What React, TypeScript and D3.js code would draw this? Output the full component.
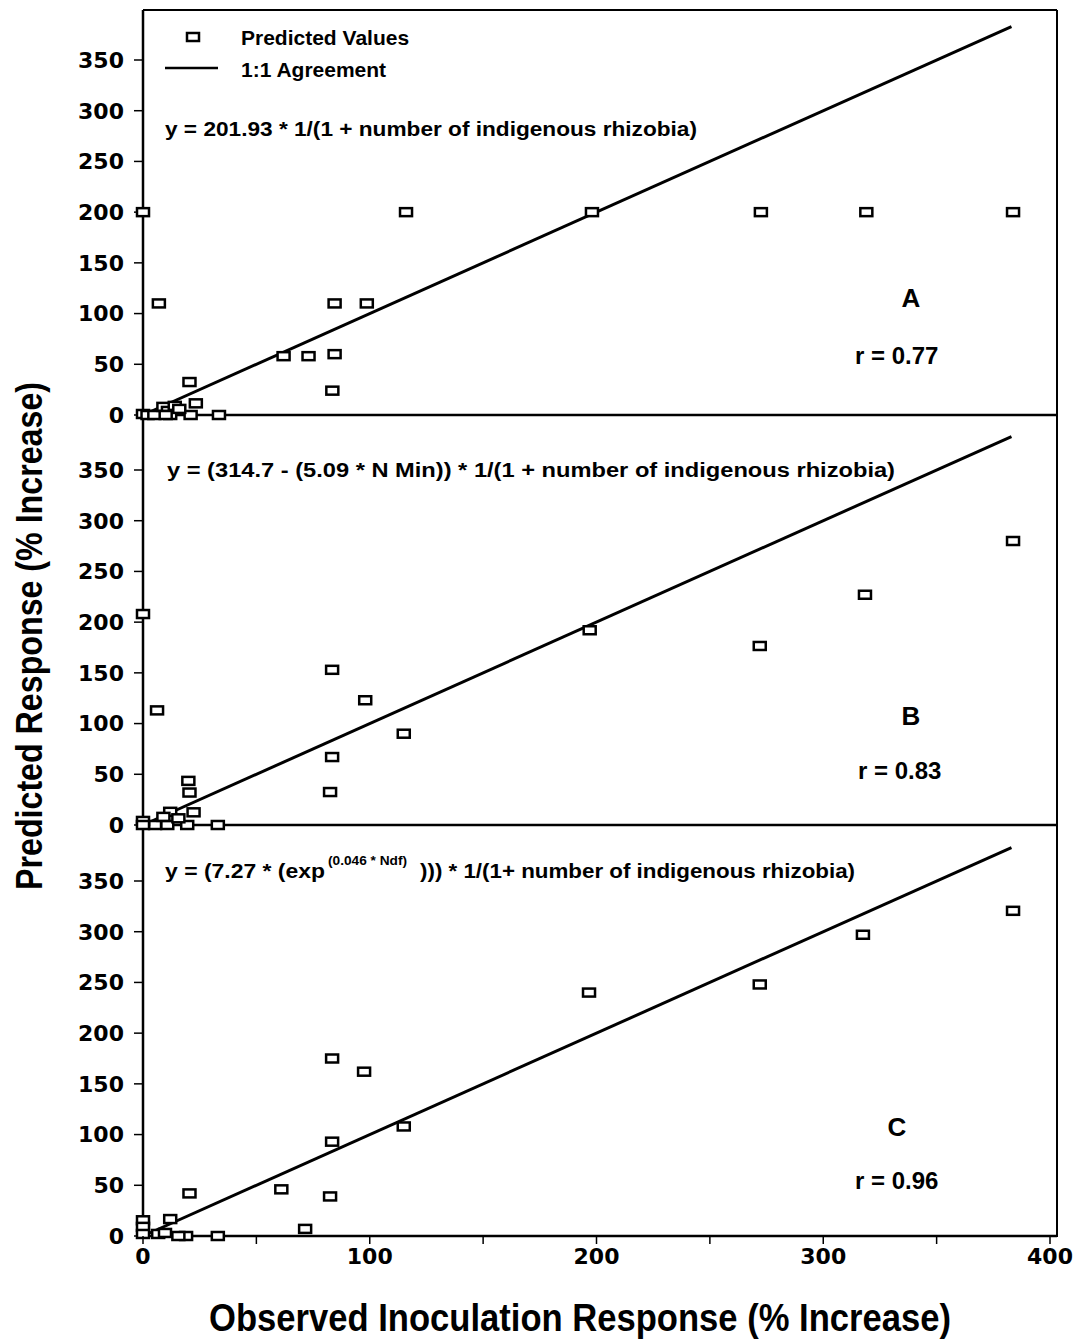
import React from "react";
import * as d3 from "d3";

const obsA = [0, 7, 116, 198, 272.5, 319, 383.7, 84.5, 98.7, 62, 73, 84.5, 83.5, 20.5, 23.3, 33.5, 21, 0, 2, 5, 9, 11, 12, 14, 16, 10];
const predA = [200, 110, 200, 200, 200, 200, 200, 110, 110, 58, 58, 60, 24, 32.5, 11.5, 0, 0, 1, 0, 0, 8, 4, 0, 9, 6, 0];

const obsB = [0, 6.2, 83.4, 98, 115, 83.4, 82.5, 197, 272, 318.4, 383.7, 20, 20.5, 22.3, 33, 19.5, 10.7, 5.3, 0, 0, 12, 15.6, 9];
const predB = [208, 113, 153, 123, 90, 67, 32.5, 192, 176.5, 227, 280, 43.5, 32, 12.5, 0, 0, 0, 0, 4, 0, 13, 6.6, 8];

const obsC = [0, 0, 0, 12, 20.5, 61, 82.5, 71.5, 83.4, 83.4, 97.5, 115, 196.7, 272, 317.5, 383.7, 33, 19, 15.6, 6.7, 9.7];
const predC = [15.5, 9, 2, 16.7, 42, 46, 39, 7, 93, 175, 162, 108, 240, 248, 297, 320.6, 0, 0, 0, 2, 3];

const lineEnd = 383;
const yTicks = [0, 50, 100, 150, 200, 250, 300, 350];
const xTicks = [0, 100, 200, 300, 400];
const xMinorTicks = [0, 50, 100, 150, 200, 250, 300, 350, 400];

const panelLetters = ["A", "B", "C"];
const rValues = ["r = 0.77", "r = 0.83", "r = 0.96"];

const BOLD = "'Liberation Sans', Arial, sans-serif";
const TICKF = "'DejaVu Sans', Verdana, sans-serif";

export default function App() {
  const left = 143;
  const right = 1057;
  const top = 10;
  const x = d3.scaleLinear().domain([0, 400]).range([143, 1050]);
  const zeros = [415, 825, 1236];
  const ys = zeros.map((z) => d3.scaleLinear().domain([0, 350]).range([z, z - 355]));
  const data = [
    { obs: obsA, pred: predA },
    { obs: obsB, pred: predB },
    { obs: obsC, pred: predC },
  ];
  const letterPos = [
    { lx: 911, ly: 298, rx: 855, ry: 355 },
    { lx: 911, ly: 716, rx: 858, ry: 770 },
    { lx: 897, ly: 1127, rx: 855, ry: 1180 },
  ];
  const line = d3.line<[number, number]>();

  return (
    <div style={{ position: "absolute", left: 0, top: 0 }}>
      <svg width={1080} height={1341} style={{ display: "block", background: "#fff" }}>
        {/* frame */}
        <line x1={left} x2={left} y1={top} y2={1237} stroke="#000" strokeWidth={2.5} />
        <line x1={right} x2={right} y1={top} y2={1237} stroke="#000" strokeWidth={2} />
        <line x1={left} x2={right} y1={top} y2={top} stroke="#000" strokeWidth={2} />
        {ys.map((y, i) => (
          <g key={i}>
            <line x1={left - 1} x2={right} y1={y(0)} y2={y(0)} stroke="#000" strokeWidth={2.5} />
            {yTicks.map((t) => (
              <g key={t}>
                <line x1={left - 9} x2={left} y1={y(t)} y2={y(t)} stroke="#000" strokeWidth={1.5} />
                <text
                  x={124}
                  y={y(t)}
                  dy="0.36em"
                  textAnchor="end"
                  fontFamily={TICKF}
                  fontWeight="bold"
                  fontSize={22}
                >
                  {t}
                </text>
              </g>
            ))}
            <path
              d={line([
                [x(0), y(0)],
                [x(lineEnd), y(lineEnd)],
              ]) || ""}
              stroke="#000"
              strokeWidth={3}
              fill="none"
            />
            {data[i].obs.map((o, j) => (
              <rect
                key={j}
                x={x(o) - 6}
                y={y(data[i].pred[j]) - 4}
                width={12}
                height={8}
                fill="#fff"
                stroke="#000"
                strokeWidth={2.5}
              />
            ))}
            <text
              x={letterPos[i].lx}
              y={letterPos[i].ly}
              dy="0.36em"
              textAnchor="middle"
              fontFamily={BOLD}
              fontWeight="bold"
              fontSize={26}
            >
              {panelLetters[i]}
            </text>
            <text
              x={letterPos[i].rx}
              y={letterPos[i].ry}
              dy="0.36em"
              fontFamily={BOLD}
              fontWeight="bold"
              fontSize={24}
            >
              {rValues[i]}
            </text>
          </g>
        ))}
        {/* x ticks */}
        {xMinorTicks.map((t) => (
          <line key={t} x1={x(t)} x2={x(t)} y1={1236} y2={1244} stroke="#000" strokeWidth={1.5} />
        ))}
        {xTicks.map((t) => (
          <text
            key={t}
            x={x(t)}
            y={1256}
            dy="0.36em"
            textAnchor="middle"
            fontFamily={TICKF}
            fontWeight="bold"
            fontSize={22}
          >
            {t}
          </text>
        ))}
        {/* legend */}
        <rect x={187} y={33} width={12} height={8} fill="#fff" stroke="#000" strokeWidth={2.5} />
        <line x1={165} x2={218} y1={68} y2={68} stroke="#000" strokeWidth={2.5} />
        <text x={241} y={37} dy="0.36em" fontFamily={BOLD} fontWeight="bold" fontSize={21}>
          Predicted Values
        </text>
        <text x={241} y={69} dy="0.36em" fontFamily={BOLD} fontWeight="bold" fontSize={21}>
          1:1 Agreement
        </text>
        {/* equations */}
        <text
          x={165}
          y={129}
          dy="0.36em"
          fontFamily={BOLD}
          fontWeight="bold"
          fontSize={20}
          textLength={532}
          lengthAdjust="spacingAndGlyphs"
        >
          y = 201.93 * 1/(1 + number of indigenous rhizobia)
        </text>
        <text
          x={167}
          y={470}
          dy="0.36em"
          fontFamily={BOLD}
          fontWeight="bold"
          fontSize={20}
          textLength={728}
          lengthAdjust="spacingAndGlyphs"
        >
          y = (314.7 - (5.09 * N Min)) * 1/(1 + number of indigenous rhizobia)
        </text>
        <text
          x={165}
          y={871}
          dy="0.36em"
          fontFamily={BOLD}
          fontWeight="bold"
          fontSize={20}
          textLength={160}
          lengthAdjust="spacingAndGlyphs"
        >
          y = (7.27 * (exp
        </text>
        <text
          x={328}
          y={861}
          dy="0.36em"
          fontFamily={BOLD}
          fontWeight="bold"
          fontSize={12}
          textLength={79}
          lengthAdjust="spacingAndGlyphs"
        >
          (0.046 * Ndf)
        </text>
        <text
          x={420}
          y={871}
          dy="0.36em"
          fontFamily={BOLD}
          fontWeight="bold"
          fontSize={20}
          textLength={435}
          lengthAdjust="spacingAndGlyphs"
        >
          ))) * 1/(1+ number of indigenous rhizobia)
        </text>
        {/* axis titles */}
        <text
          x={580}
          y={1331}
          textAnchor="middle"
          fontFamily={BOLD}
          fontWeight="bold"
          fontSize={38}
          textLength={742}
          lengthAdjust="spacingAndGlyphs"
        >
          Observed Inoculation Response (% Increase)
        </text>
        <text
          transform="translate(42,636) rotate(-90)"
          textAnchor="middle"
          fontFamily={BOLD}
          fontWeight="bold"
          fontSize={36}
          textLength={508}
          lengthAdjust="spacingAndGlyphs"
        >
          Predicted Response (% Increase)
        </text>
      </svg>
    </div>
  );
}
